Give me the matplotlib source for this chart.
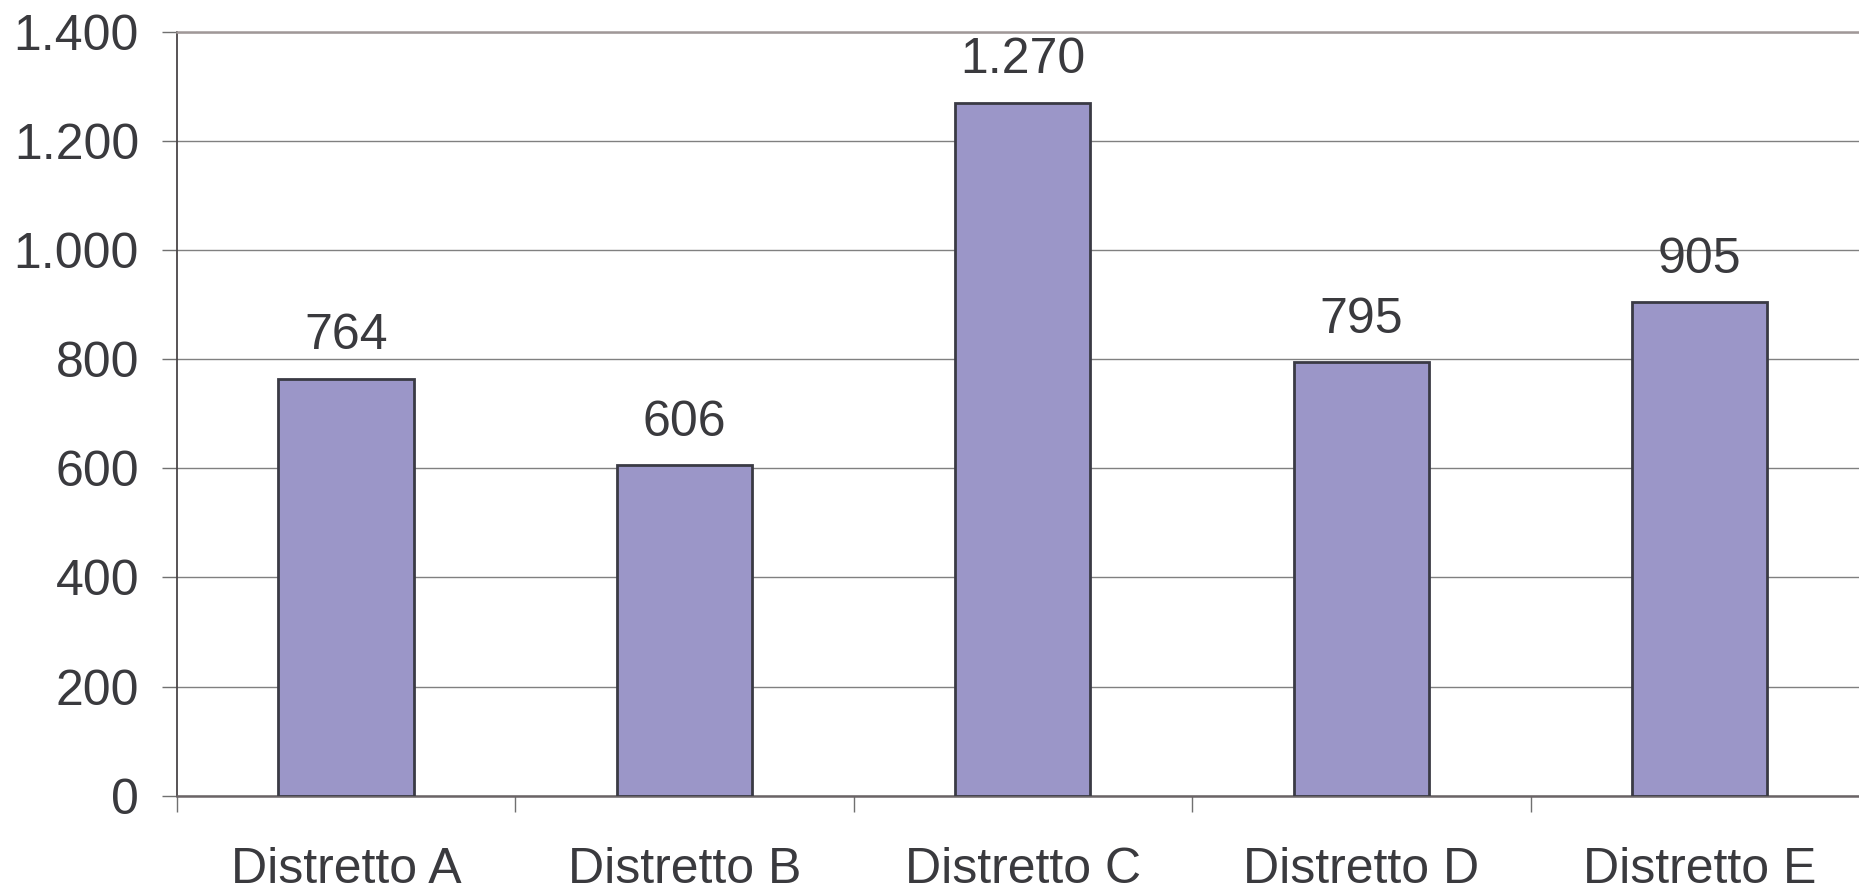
import matplotlib
matplotlib.use("Agg")
import matplotlib.pyplot as plt
from matplotlib.ticker import FuncFormatter, FixedLocator

categories = ["Distretto A", "Distretto B", "Distretto C", "Distretto D", "Distretto E"]
values = [764, 606, 1270, 795, 905]
y_ticks = [0, 200, 400, 600, 800, 1000, 1200, 1400]

def it_fmt(v):
    return f"{int(round(v)):,}".replace(",", ".")

plt.rcParams['font.family'] = ['Liberation Sans', 'DejaVu Sans']
text_color = "#3a3a3e"
fs = 36

fig = plt.figure(figsize=(18.59, 8.90), dpi=100)
ax = fig.add_axes([176.6 / 1859, (890 - 795.6) / 890, (1869 - 176.6) / 1859, (795.6 - 32) / 890])

x = list(range(len(categories)))
bars = ax.bar(x, values, width=0.40, color="#9b96c8", edgecolor="#3a3a44", linewidth=2.0, zorder=3)

for xi, v in zip(x, values):
    ax.annotate(it_fmt(v), (xi, v), xytext=(0, 14), textcoords="offset points",
                ha="center", va="bottom", fontsize=fs, color=text_color)

ax.set_xlim(-0.5, len(categories) - 0.5)
ax.set_ylim(0, 1400)
ax.set_yticks(y_ticks)
ax.yaxis.set_major_formatter(FuncFormatter(lambda v, p: it_fmt(v)))
ax.set_xticks(x)
ax.set_xticklabels(categories)
ax.xaxis.set_minor_locator(FixedLocator([i - 0.5 for i in range(len(categories) + 1)]))

ax.tick_params(axis="y", direction="out", length=11, width=1.0, color="#707070",
               labelsize=fs, labelcolor=text_color, pad=16)
ax.tick_params(axis="x", which="major", length=0, labelsize=fs, labelcolor=text_color, pad=37)
ax.tick_params(axis="x", which="minor", direction="out", length=11.5, width=1.0, color="#707070")

ax.grid(axis="y", color="#808080", linewidth=1.0, zorder=0)
ax.set_axisbelow(True)

ax.spines["right"].set_visible(False)
ax.spines["top"].set_color("#a09898")
ax.spines["top"].set_linewidth(1.8)
ax.spines["left"].set_color("#4a4548")
ax.spines["left"].set_linewidth(1.3)
ax.spines["bottom"].set_color("#6a6466")
ax.spines["bottom"].set_linewidth(1.8)

fig.savefig("out.png", dpi=100)
